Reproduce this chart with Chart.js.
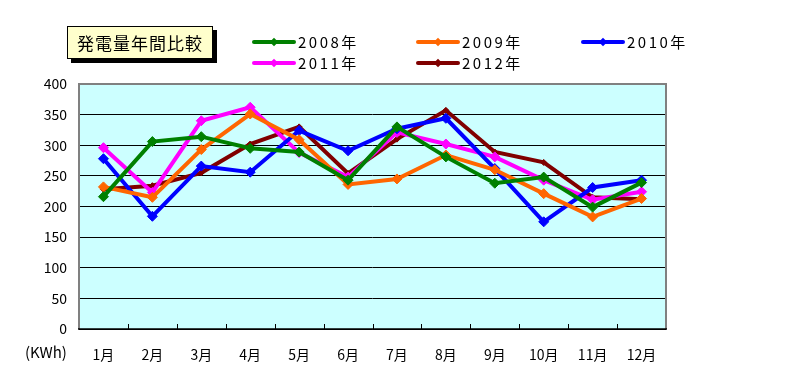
<!DOCTYPE html>
<html>
<head>
<meta charset="utf-8">
<script src="https://cdn.jsdelivr.net/npm/chart.js@4"></script>
<style>
    body { margin: 0; background: #fff; font-family: "Noto Sans CJK JP", "DejaVu Sans", sans-serif; }
    #wrap { position: relative; width: 791px; height: 374px; }
    #grafica { position: absolute; left: 0; top: 0; }
    .titulo {
        position: absolute; left: 67px; top: 26px; width: 144px; height: 31px;
        background: #ffffcc; border: 1px solid #000; box-shadow: 4px 4px 0 #000;
        font-size: 17px; line-height: 31px; text-align: center; letter-spacing: 1px; color: #000;
    }
    .leyenda { position: absolute; height: 20px; font-size: 15px; line-height: 20px; letter-spacing: 2.5px; color: #000; }
    .leyenda .linea { position: absolute; left: 0; top: 8px; width: 44px; height: 4px; border-radius: 2px; }
    .leyenda .punto { position: absolute; left: 19px; top: 7px; width: 6px; height: 6px; transform: rotate(45deg); }
    .leyenda span { position: absolute; left: 46px; top: 0; white-space: nowrap; }
    .unidad { position: absolute; left: 25px; top: 341px; font-size: 15px; color: #000; }
</style>
</head>
<body>
<div id="wrap">
    <canvas id="grafica" width="791" height="374"></canvas>
    <div class="titulo">発電量年間比較</div>
    <div id="leyendas"></div>
    <div class="unidad">(KWh)</div>
</div>
<script>
//------------------//
//--|datos_grafica|--//
//------------------//
const meses = ["1月", "2月", "3月", "4月", "5月", "6月", "7月", "8月", "9月", "10月", "11月", "12月"];
const anios = ["2008年", "2009年", "2010年", "2011年", "2012年"];
const colores = ["#008000", "#ff6600", "#0000ff", "#ff00ff", "#800000"];
const datos2008 = [216, 306, 314, 295, 289, 243, 330, 281, 238, 248, 199, 239];
const datos2009 = [232, 215, 293, 351, 309, 236, 245, 284, 260, 221, 183, 213];
const datos2010 = [278, 184, 266, 256, 324, 291, 327, 344, 262, 175, 231, 243];
const datos2011 = [296, 223, 340, 362, 288, 248, 321, 302, 281, 243, 211, 224];
const datos2012 = [228, 234, 255, 302, 330, 254, 310, 357, 289, 272, 215, 212];
const series = [datos2008, datos2009, datos2010, datos2011, datos2012];
const ticksY = [0, 50, 100, 150, 200, 250, 300, 350, 400];

//--------------------//
//--|leyenda_manual|--//
//--------------------//
const posLeyenda = [
    { x: 252, y: 32 }, { x: 416, y: 32 }, { x: 581, y: 32 },
    { x: 252, y: 53 }, { x: 416, y: 53 }
];
const contenedor = document.getElementById("leyendas");
anios.forEach((anio, i) => {
    const div = document.createElement("div");
    div.classList.add("leyenda");
    div.style.left = posLeyenda[i].x + "px";
    div.style.top = posLeyenda[i].y + "px";
    div.innerHTML = `
        <div class="linea" style="background:${colores[i]}"></div>
        <div class="punto" style="background:${colores[i]}"></div>
        <span>${anio}</span>
    `;
    contenedor.appendChild(div);
});

//------------------------//
//--|fondo_y_marco_area|--//
//------------------------//
const fondoArea = {
    id: "fondoArea",
    beforeDraw(chart) {
        const { ctx, chartArea: a } = chart;
        ctx.save();
        ctx.fillStyle = "#ccffff";
        ctx.fillRect(a.left, a.top, a.right - a.left, a.bottom - a.top);
        ctx.restore();
    },
    afterDatasetsDraw(chart) {
        const { ctx, chartArea: a } = chart;
        const x = chart.scales.x;
        ctx.save();
        // marco gris
        ctx.strokeStyle = "#808080";
        ctx.lineWidth = 2;
        ctx.beginPath();
        ctx.moveTo(a.left, a.bottom);
        ctx.lineTo(a.left, a.top);
        ctx.lineTo(a.right, a.top);
        ctx.lineTo(a.right, a.bottom);
        ctx.stroke();
        ctx.strokeStyle = "#000";
        ctx.lineWidth = 1.5;
        ctx.beginPath();
        ctx.moveTo(a.left - 1, a.bottom);
        ctx.lineTo(a.right + 1, a.bottom);
        ctx.stroke();
        // marcas del eje x hacia dentro
        ctx.lineWidth = 1;
        const paso = x.getPixelForValue(1) - x.getPixelForValue(0);
        for (let i = 1; i < meses.length; i++) {
            const px = Math.round(x.getPixelForValue(i) - paso / 2) + 0.5;
            ctx.beginPath();
            ctx.moveTo(px, a.bottom);
            ctx.lineTo(px, a.bottom - 5);
            ctx.stroke();
        }
        ctx.restore();
    }
};

//--------------------//
//--|grafica_lineas|--//
//--------------------//
const ctx = document.getElementById("grafica").getContext("2d");
new Chart(ctx, {
    type: "line",
    data: {
        labels: meses,
        datasets: series.map((valores, i) => ({
            label: anios[i],
            data: valores,
            borderColor: colores[i],
            backgroundColor: colores[i],
            borderWidth: 4,
            pointStyle: "rectRot",
            pointRadius: i === 4 ? 3 : 5,
            pointBorderWidth: 1,
            tension: 0
        }))
    },
    options: {
        responsive: false,
        animation: false,
        layout: { padding: { left: 0, right: 125, top: 84, bottom: 0 } },
        plugins: {
            legend: { display: false },
            tooltip: { enabled: false }
        },
        scales: {
            x: {
                offset: true,
                grid: { display: false },
                border: { display: false },
                ticks: {
                    color: "#000",
                    padding: 9,
                    maxRotation: 0,
                    font: { family: "'Noto Sans CJK JP', sans-serif", size: 14 }
                },
                afterFit: scale => { scale.height = 45; }
            },
            y: {
                min: 0,
                max: 400,
                afterBuildTicks: scale => { scale.ticks = ticksY.map(v => ({ value: v })); },
                grid: { color: "#000", lineWidth: 1, drawTicks: false },
                border: { display: false },
                ticks: {
                    color: "#000",
                    padding: 12,
                    font: { family: "'Noto Sans CJK JP', sans-serif", size: 14 }
                },
                afterFit: scale => { scale.width = 79; }
            }
        }
    },
    plugins: [fondoArea]
});
</script>
</body>
</html>
